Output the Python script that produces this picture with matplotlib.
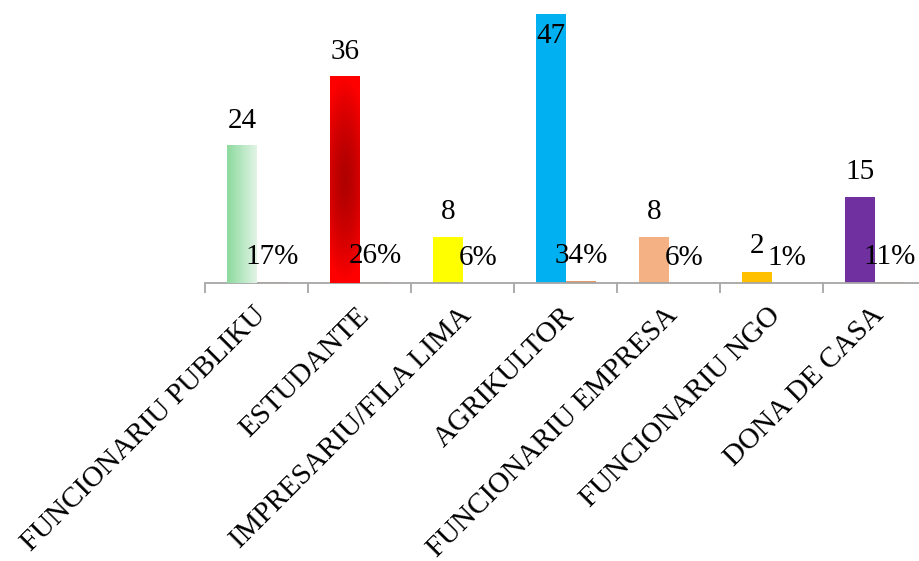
import matplotlib.pyplot as plt
import numpy as np
from matplotlib.colors import to_rgb
from matplotlib.transforms import ScaledTranslation

categories = [
    "FUNCIONARIU PUBLIKU",
    "ESTUDANTE",
    "IMPRESARIU/FILA LIMA",
    "AGRIKULTOR",
    "FUNCIONARIU EMPRESA",
    "FUNCIONARIU NGO",
    "DONA DE CASA",
]
counts = [24, 36, 8, 47, 8, 2, 15]
shares = [0.17, 0.26, 0.06, 0.34, 0.06, 0.01, 0.11]
bar_colors = ["#9ADFAA", "#FF0000", "#FFFF00", "#00B0F0", "#F4B183", "#FFC000", "#7030A0"]
share_color = "#E39A6A"

plt.rcParams["font.family"] = ["Liberation Serif", "DejaVu Serif"]

fig = plt.figure(figsize=(9.19, 5.61), dpi=100)
ax = fig.add_axes([205 / 919, 278 / 561, 721 / 919, 283 / 561])
ax.set_xlim(0, len(categories))
ax.set_ylim(0, 49.45)

x = np.arange(len(categories)) + 0.505
w = 0.29
bars = ax.bar(x - w / 2, counts, w, color=bar_colors, zorder=2)
small = ax.bar(x + w / 2, shares, w, color=share_color, zorder=2)


def gradient_fill(bar, img):
    x0, y0 = bar.get_x(), bar.get_y()
    ax.imshow(img, extent=[x0, x0 + bar.get_width(), y0, y0 + bar.get_height()],
              aspect="auto", origin="lower", zorder=3, interpolation="bilinear")


# green: horizontal fade to near white
u = np.linspace(0, 1, 60)
c0, c1 = np.array(to_rgb("#8CDA9E")), np.array(to_rgb("#E2F4E6"))
g = c0[None, :] * (1 - u[:, None]) + c1[None, :] * u[:, None]
gradient_fill(bars[0], np.repeat(g[None, :, :], 2, axis=0))

# red: dark core in the middle
uu, vv = np.meshgrid(np.linspace(0, 1, 40), np.linspace(0, 1, 200))
d = np.clip(np.sqrt((2 * vv - 1) ** 2 + 0.35 * (2 * uu - 1) ** 2), 0, 1) ** 1.4
r0, r1 = np.array(to_rgb("#B00000")), np.array(to_rgb("#FF0000"))
red = r0[None, None, :] * (1 - d[..., None]) + r1[None, None, :] * d[..., None]
gradient_fill(bars[1], red)

ymax = ax.get_ylim()[1]
for b, v in zip(bars, counts):
    cx = b.get_x() + b.get_width() / 2
    off = 13 if v < ymax * 0.85 else -21
    ax.annotate(str(v), (cx, v), xytext=(0, off), textcoords="offset points",
                ha="center", va="baseline", fontsize=21, zorder=5)
for b, v in zip(small, shares):
    cx = b.get_x() + b.get_width() / 2
    ax.annotate(f"{v:.0%}", (cx, v), xytext=(0, 13), textcoords="offset points",
                ha="center", va="baseline", fontsize=21, zorder=5)

for s in ["top", "right", "left"]:
    ax.spines[s].set_visible(False)
ax.spines["bottom"].set_color("#A6A6A6")
ax.spines["bottom"].set_linewidth(1.3)
ax.set_yticks([])
ax.set_xticks(np.arange(len(categories) + 1))
ax.set_xticklabels([])
ax.tick_params(axis="x", which="major", length=7.2, width=1.3, color="#A6A6A6")
ax.set_xticks(np.arange(len(categories)) + 0.5, minor=True)
ax.set_xticklabels(categories, minor=True, rotation=45, ha="right", va="top",
                   rotation_mode="anchor", fontsize=21)
ax.tick_params(axis="x", which="minor", length=0, pad=14)
for lab in ax.get_xticklabels(minor=True):
    lab.set_transform(lab.get_transform() + ScaledTranslation(-0.04, 0, fig.dpi_scale_trans))

fig.savefig("out.png", dpi=100, facecolor="white")
